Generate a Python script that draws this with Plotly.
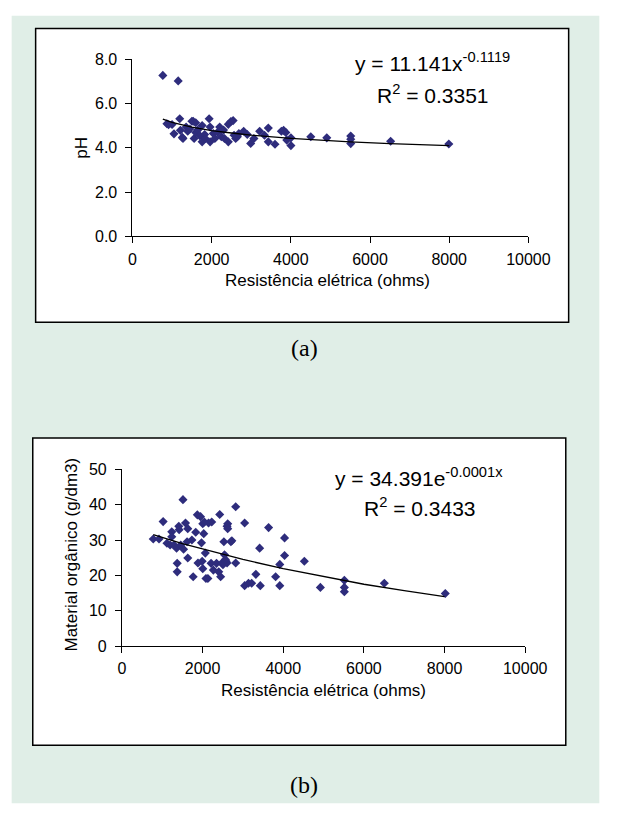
import plotly.graph_objects as go

# ---------------- data ----------------
# (a) pH vs electrical resistance
points_a = [
    (767, 7.27), (1155, 7.02), (870, 5.09), (912, 5.04), (1000, 5.05), (1049, 4.63),
    (1194, 5.31), (1211, 4.79), (1259, 4.47), (1276, 4.42), (1356, 4.94), (1396, 4.75),
    (1450, 4.85), (1501, 5.20), (1534, 5.20), (1557, 4.42), (1598, 5.13), (1598, 4.69),
    (1650, 4.80), (1700, 4.55), (1760, 4.27), (1760, 5.01), (1823, 4.60), (1840, 4.42),
    (1937, 5.31), (1961, 4.94), (1961, 4.27), (2041, 4.65), (2082, 4.42), (2150, 4.70),
    (2203, 4.94), (2244, 4.50), (2300, 4.80), (2324, 4.42), (2421, 4.27), (2421, 5.06),
    (2486, 5.19), (2542, 5.23), (2567, 4.57), (2607, 4.42), (2650, 4.50), (2688, 4.65),
    (2809, 4.75), (2900, 4.60), (2986, 4.20), (3068, 4.42), (3213, 4.75), (3334, 4.57),
    (3431, 4.27), (3431, 4.89), (3600, 4.16), (3761, 4.75), (3818, 4.79), (3874, 4.69),
    (3898, 4.35), (4002, 4.45), (4002, 4.10), (4504, 4.50), (4908, 4.45), (5513, 4.53),
    (5513, 4.39), (5513, 4.19), (6521, 4.30), (7990, 4.17),
]
res_a = [p[0] for p in points_a]
ph_a = [p[1] for p in points_a]

# trend line (a)
trend_a_x = [767, 1000, 1500, 2000, 2500, 3000, 4000, 5000, 5500, 6500, 7000, 8000]
trend_a_y = [5.30, 5.15, 4.93, 4.78, 4.67, 4.57, 4.43, 4.32, 4.27, 4.19, 4.16, 4.10]

# (b) organic matter vs electrical resistance
points_b = [
    (777, 30.3), (920, 30.3), (1022, 35.2), (1117, 29.1), (1236, 32.3), (1236, 30.9),
    (1196, 28.6), (1291, 28.6), (1355, 27.7), (1371, 23.4), (1371, 21.0), (1410, 33.9),
    (1419, 32.9), (1458, 28.6), (1514, 41.4), (1529, 27.4), (1577, 34.8), (1633, 33.2),
    (1616, 29.5), (1633, 24.9), (1735, 30.0), (1767, 19.6), (1830, 32.2), (1870, 37.1),
    (1886, 23.5), (1949, 36.6), (1973, 29.2), (1990, 24.0), (2005, 34.6), (2029, 31.8),
    (2005, 21.9), (2044, 35.1), (2068, 26.3), (2084, 19.1), (2132, 19.1), (2148, 34.8),
    (2211, 23.4), (2227, 35.1), (2267, 21.5), (2346, 23.4), (2401, 21.0), (2425, 37.2),
    (2448, 19.6), (2480, 23.5), (2528, 29.5), (2544, 25.8), (2583, 24.0), (2607, 33.9),
    (2607, 23.5), (2623, 34.6), (2702, 29.5), (2821, 39.4), (2821, 23.5), (2623, 33.2),
    (3043, 34.8), (3637, 33.5), (2726, 29.8), (3415, 27.7), (4033, 30.6), (4033, 25.6),
    (3914, 23.1), (4523, 24.0), (2505, 23.0), (2565, 24.5), (3321, 20.3), (3811, 19.6),
    (3043, 17.1), (3138, 17.8), (3217, 17.8), (3431, 17.1), (3914, 17.1), (4921, 16.6),
    (5515, 18.6), (5515, 16.6), (5515, 15.4), (6506, 17.8), (8018, 14.9),
]
res_b = [p[0] for p in points_b]
om_b = [p[1] for p in points_b]

trend_b_x = [777, 1000, 1500, 2000, 2500, 3000, 4000, 5000, 6000, 7000, 8000]
trend_b_y = [31.5, 30.7, 29.0, 27.5, 26.0, 24.5, 21.9, 19.6, 17.5, 15.7, 14.0]

x_ticks = [0, 2000, 4000, 6000, 8000, 10000]
x_tick_text = ["0", "2000", "4000", "6000", "8000", "10000"]
ya_ticks = [0, 2, 4, 6, 8]
ya_tick_text = ["0.0", "2.0", "4.0", "6.0", "8.0"]
yb_ticks = [0, 10, 20, 30, 40, 50]
yb_tick_text = ["0", "10", "20", "30", "40", "50"]

# ---------------- layout helpers ----------------
W, H = 629, 819
def px(x):
    return x / W
def py(y):
    return 1 - y / H

MARK = "#2E2C7C"
FONT = "Liberation Sans, Arial, sans-serif"
SERIF = "Liberation Serif, Times New Roman, serif"
GREEN = "#E0EEE7"

fig = go.Figure()
fig.add_trace(go.Scatter(x=res_a, y=ph_a, mode="markers", xaxis="x", yaxis="y",
                         marker=dict(symbol="diamond", size=7, color=MARK), showlegend=False))
fig.add_trace(go.Scatter(x=trend_a_x, y=trend_a_y, mode="lines", xaxis="x", yaxis="y",
                         line=dict(color="black", width=1.3), showlegend=False))
fig.add_trace(go.Scatter(x=res_b, y=om_b, mode="markers", xaxis="x2", yaxis="y2",
                         marker=dict(symbol="diamond", size=7, color=MARK), showlegend=False))
fig.add_trace(go.Scatter(x=trend_b_x, y=trend_b_y, mode="lines", xaxis="x2", yaxis="y2",
                         line=dict(color="black", width=1.3), showlegend=False))

axis_common = dict(showline=True, linecolor="black", linewidth=1, ticks="outside",
                   ticklen=6, tickcolor="black", showgrid=False, zeroline=False,
                   tickfont=dict(family=FONT, size=16, color="black"))

fig.update_layout(
    width=W, height=H,
    margin=dict(l=0, r=0, t=0, b=0),
    paper_bgcolor="white", plot_bgcolor="rgba(0,0,0,0)",
    xaxis=dict(domain=[px(134), px(547)], range=[0, 10000], tickvals=x_ticks,
               ticktext=x_tick_text, anchor="y", ticklabelstandoff=2, **axis_common),
    yaxis=dict(domain=[py(233.3), py(52.3)], range=[0, 8], tickvals=ya_ticks,
               ticktext=ya_tick_text, anchor="x", ticklabelstandoff=5, **axis_common),
    xaxis2=dict(domain=[px(123), px(543.7)], range=[0, 10000], tickvals=x_ticks,
                ticktext=x_tick_text, anchor="y2", ticklabelstandoff=2, **axis_common),
    yaxis2=dict(domain=[py(651.7), py(471)], range=[0, 50], tickvals=yb_ticks,
                ticktext=yb_tick_text, anchor="x2", ticklabelstandoff=5, **axis_common),
)

shapes = [
    dict(type="rect", xref="paper", yref="paper", x0=px(8), x1=px(621), y0=py(812), y1=py(8),
         fillcolor=GREEN, line=dict(width=0), layer="below"),
    dict(type="rect", xref="paper", yref="paper", x0=px(33), x1=px(589), y0=py(321), y1=py(21),
         fillcolor="white", line=dict(color="black", width=1.5), layer="below"),
    dict(type="rect", xref="paper", yref="paper", x0=px(30), x1=px(586), y0=py(753), y1=py(439),
         fillcolor="white", line=dict(color="black", width=1.5), layer="below"),
]
fig.update_layout(shapes=shapes)

def ann(text, x, y, size=17, family=FONT, angle=0):
    return dict(text=text, x=px(x), y=py(y), xref="paper", yref="paper", showarrow=False,
                xanchor="center", yanchor="middle", textangle=angle,
                font=dict(family=family, size=size, color="black"))

annotations = [
    ann("Resistência elétrica (ohms)", 337, 278),
    ann("pH", 80, 143, angle=-90),
    ann("y = 11.141x<sup>-0.1119</sup>", 447, 55, size=21),
    ann("R<sup>2</sup> = 0.3351", 447, 88, size=21),
    ann("(a)", 313, 347, size=24, family=SERIF),
    ann("Resistência elétrica (ohms)", 333, 697),
    ann("Material orgânico (g/dm3)", 70, 558, angle=-90),
    ann("y = 34.391e<sup>-0.0001x</sup>", 433, 479, size=21),
    ann("R<sup>2</sup> = 0.3433", 434, 510, size=21),
    ann("(b)", 313, 793, size=24, family=SERIF),
]
fig.update_layout(annotations=annotations)

fig.write_html("out.html")
